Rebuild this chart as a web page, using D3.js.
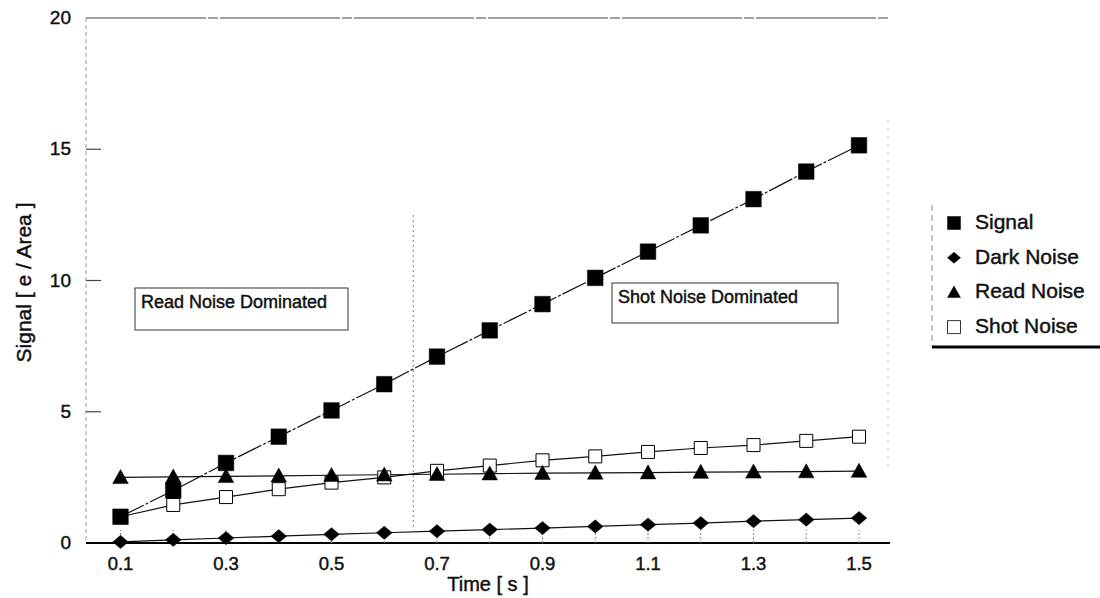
<!DOCTYPE html>
<html>
<head>
<meta charset="utf-8">
<script src="https://cdn.jsdelivr.net/npm/d3@7"></script>
<style>
  body { margin: 0; background: #fff; }
  svg { display: block; font-family: "Liberation Sans", Arial, sans-serif; }
  svg text { stroke: #111; stroke-width: 0.45px; }
</style>
</head>
<body>
<div id="chart"></div>
<script>
const WIDTH = 1100;
const HEIGHT = 598;

// data
const times = [0.1, 0.2, 0.3, 0.4, 0.5, 0.6, 0.7, 0.8, 0.9, 1.0, 1.1, 1.2, 1.3, 1.4, 1.5];
const signal = [1.0, 2.0, 3.05, 4.05, 5.05, 6.05, 7.1, 8.1, 9.1, 10.1, 11.1, 12.1, 13.1, 14.15, 15.15];
const darkNoise = [0.04, 0.12, 0.19, 0.26, 0.33, 0.39, 0.45, 0.51, 0.57, 0.63, 0.7, 0.76, 0.83, 0.89, 0.95];
const readNoise = [2.5, 2.52, 2.54, 2.56, 2.58, 2.6, 2.62, 2.64, 2.66, 2.67, 2.68, 2.7, 2.71, 2.72, 2.74];
const shotNoise = [1.0, 1.45, 1.75, 2.05, 2.3, 2.5, 2.75, 2.95, 3.15, 3.3, 3.47, 3.62, 3.73, 3.89, 4.05];

const xTickLabels = [0.1, 0.3, 0.5, 0.7, 0.9, 1.1, 1.3, 1.5];
const yTickLabels = [0, 5, 10, 15, 20];
const seriesNames = ['Signal', 'Dark Noise', 'Read Noise', 'Shot Noise'];
const dividerTime = 0.655;

const PLOT = { left: 86, right: 888, top: 18, bottom: 543 };

const svg = d3.select('#chart').append('svg')
  .attr('width', WIDTH)
  .attr('height', HEIGHT);

const xScale = d3.scaleLinear()
  .domain([0.1, 1.5])
  .range([120.5, 859]);

const yScale = d3.scaleLinear()
  .domain([0, 20])
  .range([PLOT.bottom, PLOT.top]);

const series = [
  { name: seriesNames[0], values: signal, shape: 'square', fill: '#000', dash: '26,2,3,2' },
  { name: seriesNames[1], values: darkNoise, shape: 'diamond', fill: '#000', dash: null },
  { name: seriesNames[2], values: readNoise, shape: 'triangle', fill: '#000', dash: null },
  { name: seriesNames[3], values: shotNoise, shape: 'square', fill: '#fff', dash: null }
];

// marker drawing, s = half size
function markerPath(shape, s) {
  if (shape === 'square') {
    return `M${-s},${-s}H${s}V${s}H${-s}Z`;
  }
  if (shape === 'diamond') {
    return `M${-s},0L0,${-s * 0.85}L${s},0L0,${s * 0.85}Z`;
  }
  return `M0,${-s}L${s},${s * 0.8}L${-s},${s * 0.8}Z`;
}

// frame
const frame = svg.append('g').attr('id', 'frame');

frame.append('line')
  .attr('x1', PLOT.left).attr('x2', PLOT.right)
  .attr('y1', yScale(20)).attr('y2', yScale(20))
  .attr('stroke', '#444').attr('stroke-width', 1.2)
  .attr('stroke-dasharray', '120,2,10,2');

frame.append('line')
  .attr('x1', PLOT.left).attr('x2', PLOT.left)
  .attr('y1', PLOT.top).attr('y2', PLOT.bottom)
  .attr('stroke', '#999').attr('stroke-width', 1)
  .attr('stroke-dasharray', '4,3');

frame.append('line')
  .attr('x1', PLOT.right).attr('x2', PLOT.right)
  .attr('y1', 120).attr('y2', PLOT.bottom - 75)
  .attr('stroke', '#bbb').attr('stroke-width', 1)
  .attr('stroke-dasharray', '2,6');

frame.append('line')
  .attr('x1', PLOT.left).attr('x2', PLOT.right + 2)
  .attr('y1', yScale(0)).attr('y2', yScale(0))
  .attr('stroke', '#000').attr('stroke-width', 1.8);

// y ticks (inward) and labels
frame.selectAll('.ytick')
  .data(yTickLabels.filter(d => d > 0 && d < 20))
  .enter()
  .append('line')
  .attr('x1', PLOT.left).attr('x2', PLOT.left + 15)
  .attr('y1', d => yScale(d)).attr('y2', d => yScale(d))
  .attr('stroke', '#444').attr('stroke-width', 1.2);

svg.append('g').selectAll('text')
  .data(yTickLabels)
  .enter()
  .append('text')
  .attr('x', 71)
  .attr('y', d => yScale(d) + 6)
  .attr('text-anchor', 'end')
  .attr('font-size', 19)
  .attr('fill', '#111')
  .text(d => d);

// x ticks (inward, dotted)
frame.selectAll('.xtick')
  .data(times)
  .enter()
  .append('line')
  .attr('x1', d => xScale(d)).attr('x2', d => xScale(d))
  .attr('y1', PLOT.bottom).attr('y2', PLOT.bottom - 13)
  .attr('stroke', '#888').attr('stroke-width', 1)
  .attr('stroke-dasharray', '2,2');

svg.append('g').selectAll('text')
  .data(xTickLabels)
  .enter()
  .append('text')
  .attr('x', d => xScale(d))
  .attr('y', 570)
  .attr('text-anchor', 'middle')
  .attr('font-size', 18.5)
  .attr('fill', '#111')
  .text(d => d3.format('.1f')(d));

// axis titles
svg.append('text')
  .attr('x', 488)
  .attr('y', 591)
  .attr('text-anchor', 'middle')
  .attr('font-size', 20)
  .attr('fill', '#111')
  .text('Time [ s ]');

svg.append('text')
  .attr('transform', `translate(31,${(PLOT.top + PLOT.bottom) / 2 + 2}) rotate(-90)`)
  .attr('text-anchor', 'middle')
  .attr('font-size', 21)
  .attr('fill', '#111')
  .text('Signal [ e / Area ]');

// divider
svg.append('line')
  .attr('x1', xScale(dividerTime)).attr('x2', xScale(dividerTime))
  .attr('y1', 215).attr('y2', 528)
  .attr('stroke', '#777').attr('stroke-width', 1)
  .attr('stroke-dasharray', '2,3');

// annotation boxes
const notes = [
  { text: 'Read Noise Dominated', x: 135, y: 288, w: 213, h: 42 },
  { text: 'Shot Noise Dominated', x: 612, y: 283, w: 226, h: 40 }
];

const noteG = svg.append('g').attr('id', 'notes');
noteG.selectAll('rect')
  .data(notes)
  .enter()
  .append('rect')
  .attr('x', d => d.x).attr('y', d => d.y)
  .attr('width', d => d.w).attr('height', d => d.h)
  .attr('fill', '#fff')
  .attr('stroke', '#333').attr('stroke-width', 1);

noteG.selectAll('text')
  .data(notes)
  .enter()
  .append('text')
  .attr('x', d => d.x + 6)
  .attr('y', d => d.y + 20)
  .attr('font-size', 18)
  .attr('fill', '#111')
  .text(d => d.text);

// lines
const line = d3.line()
  .x((d, i) => xScale(times[i]))
  .y(d => yScale(d));

const lines = svg.append('g').attr('id', 'lines');
lines.selectAll('path')
  .data(series)
  .enter()
  .append('path')
  .attr('d', d => line(d.values))
  .attr('fill', 'none')
  .attr('stroke', '#111')
  .attr('stroke-width', 1.2)
  .attr('stroke-dasharray', d => d.dash);

// markers
const markers = svg.append('g').attr('id', 'markers');
[series[3], series[1], series[0], series[2]].forEach(s => {
  markers.append('g').selectAll('path')
    .data(s.values)
    .enter()
    .append('path')
    .attr('transform', (d, i) => `translate(${xScale(times[i])},${yScale(d)})`)
    .attr('d', markerPath(s.shape, s.fill === '#fff' ? 6.5 : 7.8))
    .attr('fill', s.fill)
    .attr('stroke', '#000')
    .attr('stroke-width', s.fill === '#fff' ? 1 : 0.5);
});

// legend
const legend = svg.append('g').attr('id', 'legend');
legend.append('line')
  .attr('x1', 932).attr('x2', 932)
  .attr('y1', 205).attr('y2', 347)
  .attr('stroke', '#888').attr('stroke-width', 1)
  .attr('stroke-dasharray', '6,4');
legend.append('line')
  .attr('x1', 932).attr('x2', WIDTH)
  .attr('y1', 347).attr('y2', 347)
  .attr('stroke', '#000').attr('stroke-width', 3);

const legendRows = legend.selectAll('.row')
  .data(series)
  .enter()
  .append('g')
  .attr('transform', (d, i) => `translate(954,${226 + i * 34.7})`);

legendRows.append('path')
  .attr('transform', 'translate(0,-3)')
  .attr('d', d => markerPath(d.shape, 6.5))
  .attr('fill', d => d.fill)
  .attr('stroke', '#000')
  .attr('stroke-width', d => d.fill === '#fff' ? 0.8 : 0.5);

legendRows.append('text')
  .attr('x', 21)
  .attr('y', 3)
  .attr('font-size', 21)
  .attr('fill', '#111')
  .text(d => d.name);
</script>
</body>
</html>
